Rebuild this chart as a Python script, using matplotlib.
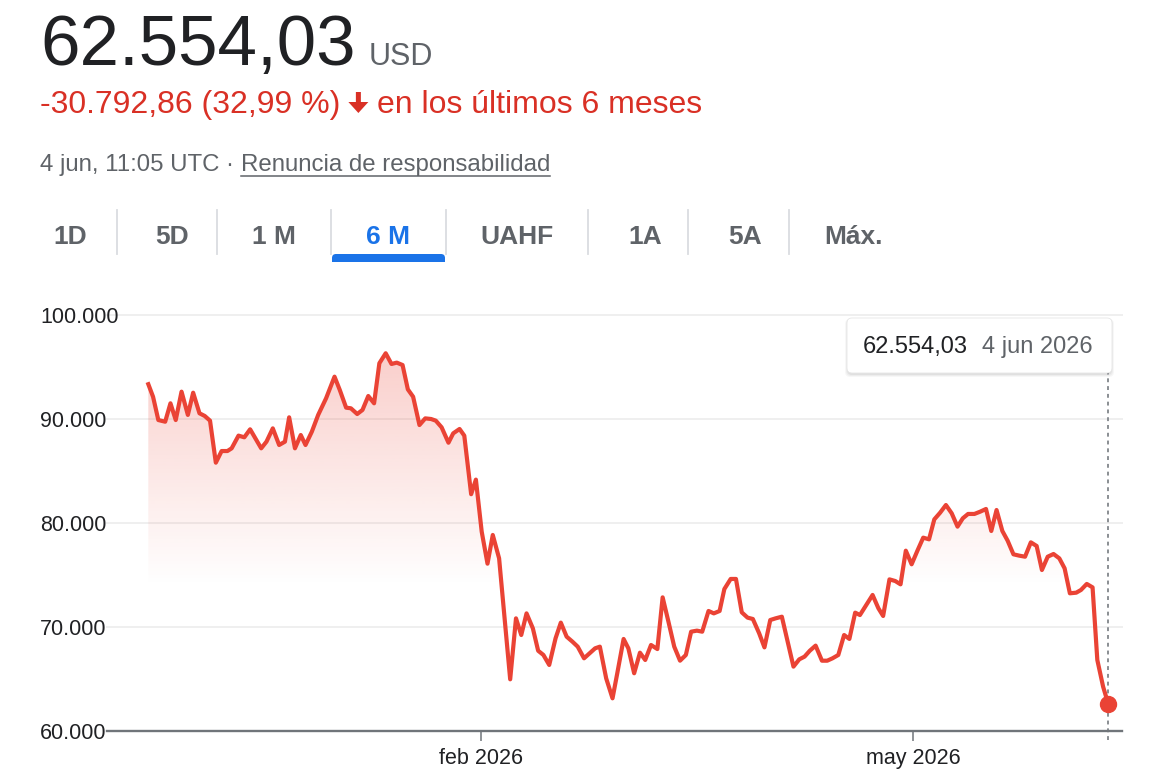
import matplotlib
matplotlib.use("Agg")
import matplotlib.pyplot as plt
import numpy as np
from matplotlib.transforms import IdentityTransform
from matplotlib.patches import Polygon, FancyBboxPatch, Rectangle
from matplotlib.lines import Line2D
from matplotlib.colors import to_rgb

# ---- data (days since 4 dec 2025, price in USD) ----
days = [0.0, 0.9, 1.9, 3.2, 4.2, 5.2, 6.3, 7.5, 8.5, 9.7, 10.7, 11.7, 12.8, 13.9, 15.0,
        15.8, 17.1, 18.2, 19.3, 21.4, 22.4, 23.6, 24.8, 25.9, 26.7, 27.8, 28.9, 29.8, 31.0,
        32.2, 33.7, 35.3, 36.3, 37.5, 38.4, 39.6, 40.6, 41.7, 42.8, 43.8, 45.0, 46.1, 47.1,
        48.2, 49.2, 50.2, 51.4, 52.5, 53.6, 54.5, 55.6, 56.9, 57.8, 59.0, 59.9, 61.2, 62.1,
        63.2, 64.3, 65.3, 66.5, 68.6, 69.7, 70.7, 71.7, 72.9, 73.9, 74.9, 76.0, 77.2, 78.2,
        79.3, 80.4, 81.4, 82.6, 84.7, 85.6, 86.8, 88.0, 88.9, 90.1, 91.0, 92.1, 93.2, 94.2,
        95.3, 96.5, 97.5, 98.6, 99.7, 100.8, 101.9, 102.9, 104.0, 105.0, 106.2, 107.2, 108.3,
        109.2, 110.4, 111.4, 112.5, 113.6, 114.6, 115.8, 116.8, 117.9, 118.9, 120.1, 121.1,
        122.3, 123.4, 124.4, 125.4, 126.5, 127.7, 128.7, 129.7, 130.8, 131.9, 132.9, 134.0,
        134.9, 137.3, 138.4, 139.3, 140.5, 141.6, 142.6, 143.6, 144.7, 145.8, 146.9, 148.0,
        149.0, 150.1, 151.2, 152.3, 153.4, 154.4, 155.4, 156.6, 157.7, 158.8, 159.8, 160.8,
        161.9, 162.9, 164.0, 165.1, 166.2, 167.3, 168.4, 169.4, 170.5, 171.6, 172.7, 173.7,
        174.7, 175.9, 176.8, 177.9, 179.0, 179.9, 181.0, 182.0]
prices = [93347, 92140, 89900, 89740, 91510, 89900, 92630, 90390, 92530, 90550, 90290, 89840,
          85800, 86920, 86920, 87180, 88400, 88240, 89010, 87180, 87820, 89100, 87500, 87820,
          90160, 87180, 88460, 87500, 88780, 90390, 91990, 94070, 92790, 91090, 91030, 90480,
          90870, 92210, 91510, 95360, 96320, 95290, 95420, 95190, 92850, 92140, 89420, 90060,
          90000, 89840, 89200, 87720, 88620, 89040, 88400, 82770, 84170, 79170, 76090, 78850,
          76600, 64970, 70830, 69230, 71310, 69870, 67720, 67310, 66350, 68910, 70420, 69070,
          68590, 68110, 66990, 67950, 68110, 65060, 63140, 65550, 68850, 67950, 65550, 67530,
          66830, 68270, 67880, 72850, 70510, 68110, 66760, 67310, 69550, 69650, 69550, 71540,
          71310, 71540, 73650, 74620, 74620, 71410, 70900, 70770, 69390, 68040, 70670, 70830,
          70990, 68810, 66190, 66890, 67150, 67720, 68210, 66760, 66760, 66990, 67310, 69230,
          68850, 71380, 71150, 73080, 71800, 71060, 74580, 74420, 74100, 77340, 76030, 77340,
          78590, 78430, 80350, 80990, 81730, 80930, 79650, 80450, 80870, 80870, 81090, 81350,
          79230, 81250, 79230, 78300, 76990, 76860, 76760, 78140, 77790, 75480, 76760, 77020,
          76600, 75640, 73240, 73300, 73560, 74140, 73810, 66830, 64260, 62554.03]

y_ticks = [60000, 70000, 80000, 90000, 100000]
y_labels = ["60.000", "70.000", "80.000", "90.000", "100.000"]
x_tick_days = [63.1, 145.0]
x_tick_labels = ["feb 2026", "may 2026"]

tabs = ["1D", "5D", "1 M", "6 M", "UAHF", "1A", "5A", "Máx."]
active_tab = "6 M"

price_text = "62.554,03"
change_text = "-30.792,86 (32,99 %)"
period_text = "en los últimos 6 meses"
time_text = "4 jun, 11:05 UTC · "
link_text = "Renuncia de responsabilidad"
tip_date = "4 jun 2026"

RED = "#ea4335"
FONT = "Liberation Sans"
plt.rcParams["font.family"] = [FONT, "DejaVu Sans"]

W, H = 1164, 780
fig = plt.figure(figsize=(W / 100, H / 100), dpi=100)
ID = IdentityTransform()
renderer = fig.canvas.get_renderer()


def txt(x, y, s, **kw):
    return fig.text(x, H - y, s, transform=ID, **kw)


def right_of(t):
    return t.get_window_extent(renderer).x1


# ---- header ----
t = txt(40, 65, price_text, fontsize=51, color="#202124", va="baseline")
txt(right_of(t) + 13, 65, "USD", fontsize=22, color="#5f6368", va="baseline")

t = txt(40, 113, change_text, fontsize=23, color="#d93025", va="baseline")
ax0 = right_of(t) + 18
arrow = [(ax0 - 2.5, H - 92), (ax0 + 2.5, H - 92), (ax0 + 2.5, H - 102), (ax0 + 10, H - 102),
         (ax0, H - 113), (ax0 - 10, H - 102), (ax0 - 2.5, H - 102)]
fig.add_artist(Polygon(arrow, closed=True, transform=ID, facecolor="#d93025", edgecolor="none"))
txt(ax0 + 19, 113, period_text, fontsize=23, color="#d93025", va="baseline")

t = txt(40, 171, time_text, fontsize=17.3, color="#5f6368", va="baseline")
lx = right_of(t)
t2 = txt(lx, 171, link_text, fontsize=17.3, color="#5f6368", va="baseline")
fig.add_artist(Line2D([lx, right_of(t2)], [H - 176, H - 176], transform=ID,
                      color="#5f6368", lw=1.1))

# ---- range tabs ----
tab_x = [70, 172, 274, 388, 517, 645, 745, 853]
for lab, cx in zip(tabs, tab_x):
    c = "#1a73e8" if lab == active_tab else "#5f6368"
    txt(cx, 244, lab, fontsize=19, fontweight="bold", color=c, ha="center", va="baseline")
for sx in [117, 217, 331, 446, 588, 688, 789]:
    fig.add_artist(Line2D([sx, sx], [H - 210, H - 254], transform=ID, color="#dadce0", lw=1.3))
fig.add_artist(FancyBboxPatch((332, H - 262), 113, 8, boxstyle="round,pad=0,rounding_size=4",
                              transform=ID, facecolor="#1a73e8", edgecolor="none"))
fig.add_artist(Rectangle((332, H - 262), 113, 4, transform=ID, facecolor="#1a73e8",
                         edgecolor="none"))

# ---- chart ----
ax = fig.add_axes([107 / W, 1 - 731 / H, (1122 - 107) / W, (731 - 315) / H])

grad_y = np.linspace(60000, 100000, 400)
alpha = np.clip((grad_y - 74000) / (96500 - 74000), 0, 1) * 0.26
img = np.zeros((400, 1, 4))
img[..., :3] = to_rgb(RED)
img[..., 3] = alpha[:, None]
im = ax.imshow(img, extent=[days[0], days[-1], 60000, 100000], origin="lower",
               aspect="auto", interpolation="bilinear", zorder=1)
clip = Polygon(list(zip(days, prices)) + [(days[-1], 60000), (days[0], 60000)],
               closed=True, transform=ax.transData, facecolor="none", edgecolor="none")
ax.add_patch(clip)
im.set_clip_path(clip)

for yv in y_ticks[1:]:
    ax.axhline(yv, color="#efefef", lw=1.4, zorder=0.5, clip_on=False)

ax.plot(days, prices, color=RED, lw=3.0, solid_joinstyle="round", zorder=3)
ax.plot([days[-1], days[-1]], [59135, 94423], color="#8a8e93", lw=1.4,
        linestyle=(0, (2, 2)), zorder=2, clip_on=False)
ax.plot(days[-1], prices[-1], "o", color=RED, markersize=11.5, zorder=4, clip_on=False)

ax.set_xlim(-7.83, 184.58)
ax.set_ylim(60000, 100000)
for s in ["top", "right", "left"]:
    ax.spines[s].set_visible(False)
ax.spines["bottom"].set_color("#70757a")
ax.spines["bottom"].set_linewidth(1.7)
ax.set_yticks(y_ticks, labels=y_labels)
ax.tick_params(axis="y", length=0, pad=48.2, labelsize=15.5, labelcolor="#202124")
for lab in ax.get_yticklabels():
    lab.set_ha("left")
ax.set_xticks(x_tick_days, labels=x_tick_labels)
ax.tick_params(axis="x", length=7.2, width=1.1, color="#70757a", pad=5,
               labelsize=15.5, labelcolor="#202124")
ax.set_facecolor("none")

# ---- tooltip ----
for i, a in enumerate([0.05, 0.04, 0.03]):
    fig.add_artist(FancyBboxPatch((847 - i, H - 374 - i - 1), 265 + 2 * i, 56 + i,
                                  boxstyle="round,pad=0,rounding_size=5", transform=ID,
                                  facecolor="black", edgecolor="none", alpha=a, zorder=5))
fig.add_artist(FancyBboxPatch((847, H - 373), 265, 55, boxstyle="round,pad=0,rounding_size=5",
                              transform=ID, facecolor="white", edgecolor="#e6e6e6", lw=0.6,
                              zorder=6))
t = txt(863, 353, price_text, fontsize=17, color="#202124", va="baseline", zorder=7)
txt(right_of(t) + 14, 353, tip_date, fontsize=17, color="#5f6368", va="baseline", zorder=7)

fig.savefig("out.png", dpi=100)
